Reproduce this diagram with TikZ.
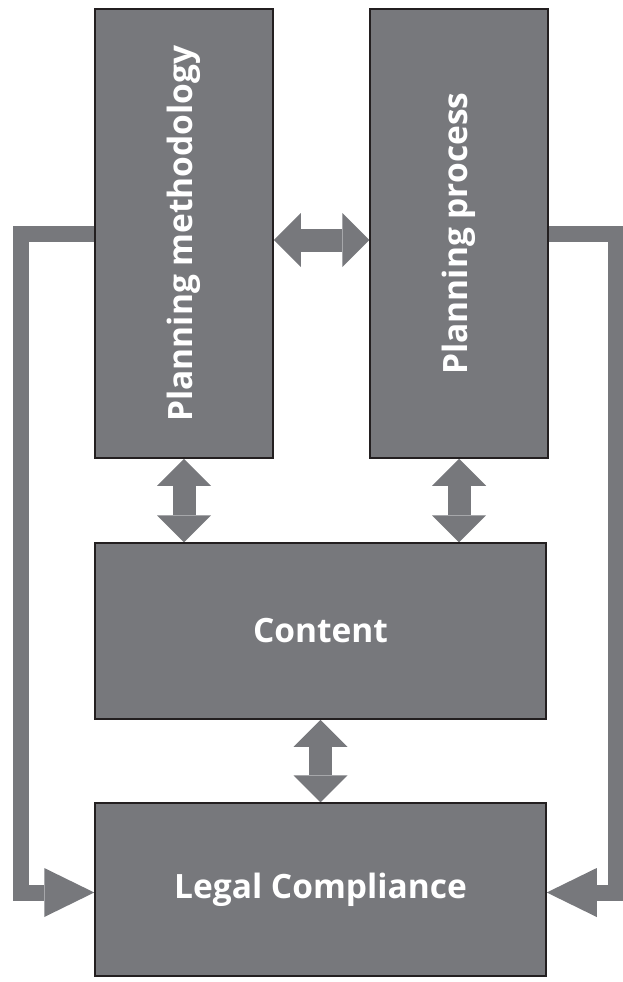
\documentclass[tikz,border=0pt]{standalone}
\usepackage{fontspec}
\setsansfont{Open Sans}
\usepackage{graphicx}
\usepackage{xcolor}
\usetikzlibrary{calc,arrows.meta,positioning,backgrounds}
\definecolor{boxgray}{RGB}{119,120,124}
\definecolor{edgegray}{RGB}{35,31,32}

\begin{document}
\begin{tikzpicture}[x=1pt, y=-1pt,
    block/.style={draw=edgegray, fill=boxgray, line width=1.5pt, rectangle, inner sep=0pt, text=white, font=\sffamily\bfseries\fontsize{33.5}{40}\selectfont},
    biarrow/.style={draw=boxgray, line width=23pt, {Triangle[width=54pt, length=27pt, line width=0pt]}-{Triangle[width=54pt, length=27pt, line width=0pt]}},
    sidearrow/.style={draw=boxgray, line width=16pt, line join=miter, -{Triangle[width=49pt, length=50pt, line width=0pt]}}]
    \useasboundingbox (0,0) rectangle (623,982);

    % The two planning boxes on top
    \node[block, minimum width=178pt, minimum height=449pt] (method) at (184,233.5) {\rotatebox{90}{Planning methodology}};
    \node[block, minimum width=178pt, minimum height=449pt] (process) at (459,233.5) {\rotatebox{90}{Planning process}};

    % Content and legal compliance below
    \node[block, minimum width=451pt, minimum height=176pt] (content) at (320.5,631) {Content};
    \node[block, minimum width=451pt, minimum height=173pt] (legal) at (320.5,889.5) {Legal Compliance};

    \begin{scope}[on background layer]
        % Double arrows between the boxes
        \draw[biarrow] ($(method.east)+(0,6.5)$) -- ($(process.west)+(0,6.5)$);
        \draw[biarrow] (method.south) -- (method.south |- content.north);
        \draw[biarrow] (process.south) -- (process.south |- content.north);
        \draw[biarrow] (content.south) -- (legal.north);

        % Side arrows running down to legal compliance
        \draw[sidearrow] (method.west) -- ++(-73,0) |- ($(legal.west)+(0,3)$);
        \draw[sidearrow] (process.east) -- ++(67,0) |- ($(legal.east)+(0,3)$);
    \end{scope}
\end{tikzpicture}
\end{document}
